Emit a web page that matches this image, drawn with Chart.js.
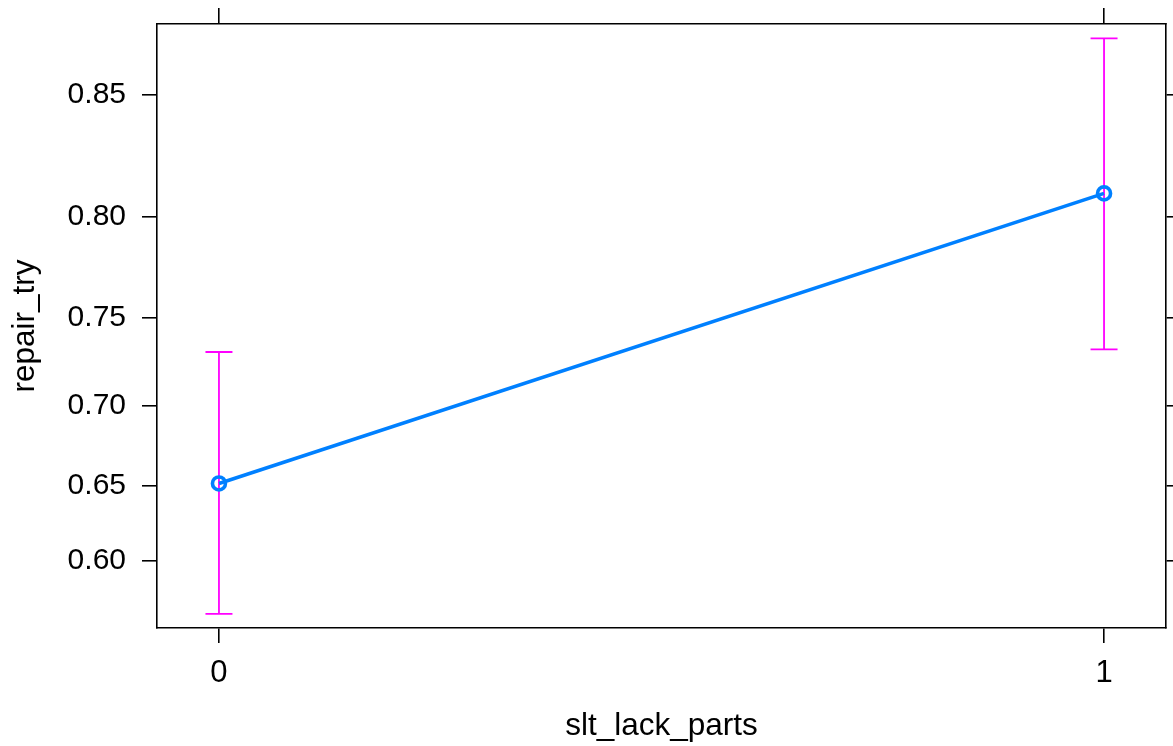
<!DOCTYPE html>
<html>
<head>
<meta charset="utf-8">
<title>repair_try by slt_lack_parts</title>
<script src="https://cdn.jsdelivr.net/npm/chart.js@4/dist/chart.umd.min.js"></script>
<style>
  html, body { margin: 0; padding: 0; background: #ffffff; }
  #wrap { width: 1173px; height: 746px; position: relative; }
</style>
</head>
<body>
<div id="wrap"><canvas id="chart" width="1173" height="746"></canvas></div>
<script>
// Effect of slt_lack_parts on the predicted probability of repair_try
const categories = [0, 1];
const categoryLabels = ['0', '1'];
const fitted = [0.6514, 0.8104];
const lower = [0.5629, 0.7326];
const upper = [0.7311, 0.8693];
const yTickValues = [0.60, 0.65, 0.70, 0.75, 0.80, 0.85];
const yTickLabels = ['0.60', '0.65', '0.70', '0.75', '0.80', '0.85'];
const yLimits = [0.5530, 0.8739];   // probability range shown on the logit axis
const xLimits = [-0.07, 1.07];

// The response axis is on the logit scale
const logit = p => Math.log(p / (1 - p));

const FONT = '"Liberation Sans", Arial, Helvetica, sans-serif';
const LINE_BLUE = '#0080ff';
const BAR_MAGENTA = '#ff00ff';

// Confidence-interval bars with caps, drawn through the chart scales
const errorBars = {
  id: 'errorBars',
  beforeDatasetsDraw(chart) {
    const ctx = chart.ctx;
    const xs = chart.scales.x, ys = chart.scales.y;
    const cap = 13.5;
    ctx.save();
    ctx.strokeStyle = BAR_MAGENTA;
    ctx.lineWidth = 1.8;
    categories.forEach((c, i) => {
      const px = xs.getPixelForValue(c);
      const yLo = ys.getPixelForValue(logit(lower[i]));
      const yHi = ys.getPixelForValue(logit(upper[i]));
      ctx.beginPath();
      ctx.moveTo(px, yLo); ctx.lineTo(px, yHi);
      ctx.moveTo(px - cap, yLo); ctx.lineTo(px + cap, yLo);
      ctx.moveTo(px - cap, yHi); ctx.lineTo(px + cap, yHi);
      ctx.stroke();
    });
    ctx.restore();
  }
};

const axisGrid = len => ({
  drawOnChartArea: false,
  drawTicks: true,
  tickLength: len,
  color: '#000000',
  lineWidth: 1.6
});
const axisBorder = { display: true, color: '#000000', width: 1.6 };

// Fixed axis band sizes, without the extra room Chart.js reserves for edge labels
const fixHeight = h => s => { s.height = h; s.paddingLeft = 0; s.paddingRight = 0; };
const fixWidth = w => s => { s.width = w; s.paddingTop = 0; s.paddingBottom = 0; };

new Chart(document.getElementById('chart'), {
  type: 'line',
  data: {
    datasets: [{
      data: categories.map((c, i) => ({ x: c, y: logit(fitted[i]) })),
      borderColor: LINE_BLUE,
      borderWidth: 3.6,
      pointRadius: 6.5,
      pointBorderWidth: 3.6,
      pointBorderColor: LINE_BLUE,
      pointBackgroundColor: 'rgba(0,0,0,0)',
      pointHoverRadius: 6.5,
      tension: 0,
      fill: false
    }]
  },
  options: {
    responsive: false,
    animation: false,
    events: [],
    layout: { padding: 0, autoPadding: false },
    plugins: { legend: { display: false }, tooltip: { enabled: false } },
    scales: {
      x: {
        type: 'linear', position: 'bottom',
        min: xLimits[0], max: xLimits[1],
        afterBuildTicks: s => { s.ticks = categories.map(v => ({ value: v })); },
        afterFit: fixHeight(118),
        ticks: {
          color: '#000000', padding: 12, maxRotation: 0, autoSkip: false,
          font: { family: FONT, size: 31 },
          callback: (v) => categoryLabels[categories.indexOf(v)]
        },
        grid: axisGrid(15),
        border: axisBorder,
        title: {
          display: true, text: 'slt_lack_parts', color: '#000000',
          font: { family: FONT, size: 31.5 }, padding: { top: 0, bottom: 1 }
        }
      },
      xTop: {
        type: 'linear', position: 'top',
        min: xLimits[0], max: xLimits[1],
        afterBuildTicks: s => { s.ticks = categories.map(v => ({ value: v })); },
        afterFit: fixHeight(24),
        ticks: { display: false },
        grid: axisGrid(16),
        border: axisBorder
      },
      y: {
        type: 'linear', position: 'left',
        min: logit(yLimits[0]), max: logit(yLimits[1]),
        afterBuildTicks: s => { s.ticks = yTickValues.map(p => ({ value: logit(p) })); },
        afterFit: fixWidth(157),
        ticks: {
          color: '#000000', padding: 16, autoSkip: false,
          font: { family: FONT, size: 30 },
          callback: (v, i) => yTickLabels[i]
        },
        grid: axisGrid(15),
        border: axisBorder,
        title: {
          display: true, text: 'repair_try', color: '#000000',
          font: { family: FONT, size: 31.5 }, padding: { top: 6, bottom: 0 }
        }
      },
      yRight: {
        type: 'linear', position: 'right',
        min: logit(yLimits[0]), max: logit(yLimits[1]),
        afterBuildTicks: s => { s.ticks = yTickValues.map(p => ({ value: logit(p) })); },
        afterFit: fixWidth(7),
        ticks: { display: false },
        grid: axisGrid(8),
        border: axisBorder
      }
    }
  },
  plugins: [errorBars]
});
</script>
</body>
</html>
